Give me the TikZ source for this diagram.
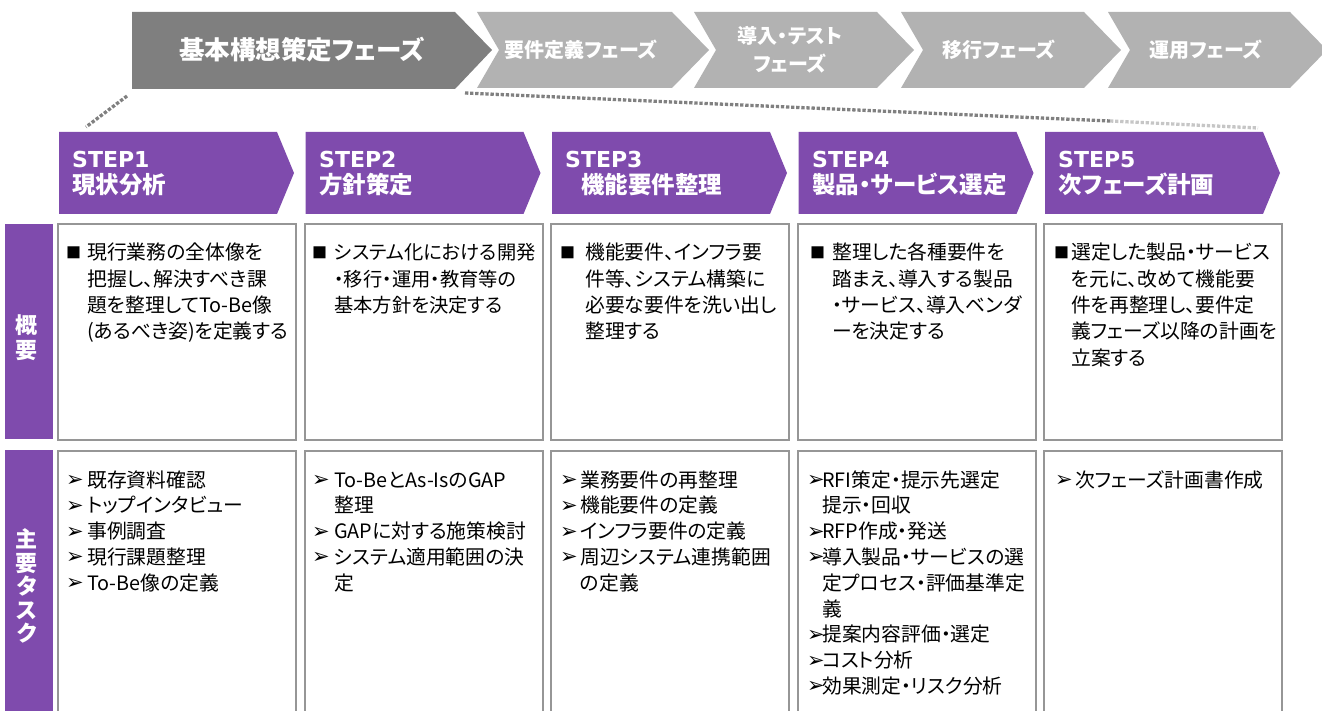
\documentclass[tikz,border=0pt]{standalone}
\usepackage{fontspec}
\setmainfont{Noto Sans CJK JP}[CharacterWidth=AlternateProportional]
\newfontfamily\vd{DejaVu Sans}
\definecolor{pur}{RGB}{127,75,173}
\definecolor{dkg}{RGB}{127,127,127}
\definecolor{ltg}{RGB}{178,178,178}
\definecolor{bdc}{RGB}{150,150,150}
\definecolor{dotc}{RGB}{128,128,128}
\newcommand\BL[1]{\makebox[#1pt][l]{\raisebox{1pt}{\fontsize{15}{15}\selectfont ■}}}
\newcommand\AR[1]{\makebox[#1pt][l]{\raisebox{0.5pt}{\vd\fontsize{21}{21}\selectfont ➢}}}
\tikzset{
  phbig/.style={text=white, inner sep=0, font=\bfseries\fontsize{25.5}{28}\selectfont},
  phtxt/.style={text=white, inner sep=0, align=center, font=\bfseries\fontsize{20}{28}\selectfont},
  dotl/.style={draw=dotc, line width=3.3pt, dash pattern=on 3.3pt off 1.8pt},
  steptxt/.style={text=white, inner sep=0, anchor=base west, font=\vd\bfseries\fontsize{22}{26}\selectfont},
  stepjp/.style={text=white, inner sep=0, anchor=base west, font=\bfseries\fontsize{23.5}{26}\selectfont},
  rowlab/.style={text=white, inner sep=0, align=center},
  boxa/.style={draw=bdc, line width=2pt, inner sep=0, anchor=north west, minimum width=238pt},
  txta/.style={inner sep=0, anchor=base west, font=\fontsize{19.8}{26.3}\selectfont},
  txtb/.style={inner sep=0, anchor=base west, font=\fontsize{19.8}{25.8}\selectfont},
}
\begin{document}
\begin{tikzpicture}[x=1pt,y=-1pt]
\useasboundingbox (0,0) rectangle (1322,711);
% ---------- phases ----------
\fill[dkg] (132,12) -- (455,12) -- (492,50) -- (455,89) -- (132,89) -- cycle;
\foreach \L/\S in {477/672,694/877,901/1084,1108/1290}{
  \fill[ltg] (\L,12) -- (\S,12) -- (\S+37,50) -- (\S,88) -- (\L,88) -- (\L+22,50) -- cycle;}
\node[phbig] (p1) at (302,50) {基本構想策定フェーズ};
\node[phtxt] (p2) at (581,50) {要件定義フェーズ};
\node[phtxt] (p3) at (790,50) {導入・テスト\\フェーズ};
\node[phtxt] (p4) at (999,50) {移行フェーズ};
\node[phtxt] (p5) at (1206,50) {運用フェーズ};
% ---------- dotted guide lines ----------
\coordinate (d1a) at (127,96);
\coordinate (d1b) at (86,127);
\coordinate (d2a) at (465,93);
\coordinate (d2m) at (1110,121);
\coordinate (d2b) at (1258,128);
\draw[dotl] (d1a) -- (d1b);
\draw[dotl] (d2a) -- (d2m);
\draw[dotl, draw=dotc!45] (d2m) -- (d2b);
% ---------- step headers ----------
\foreach \L in {59,305.5,552,798.5,1045}{
  \fill[pur] (\L,132) -- (\L+218,132) -- (\L+235,173) -- (\L+218,214) -- (\L,214) -- cycle;}
\node[steptxt] (s1) at (72,168) {STEP1};
\node[stepjp]  (j1) at (72,194) {現状分析};
\node[steptxt] (s2) at (319,168) {STEP2};
\node[stepjp]  (j2) at (319,194) {方針策定};
\node[steptxt] (s3) at (565,168) {STEP3};
\node[stepjp]  (j3) at (581,194) {機能要件整理};
\node[steptxt] (s4) at (812,168) {STEP4};
\node[stepjp]  (j4) at (812,194) {製品・サービス選定};
\node[steptxt] (s5) at (1058,168) {STEP5};
\node[stepjp]  (j5) at (1058,194) {次フェーズ計画};
% ---------- row labels ----------
\fill[pur] (5,224) rectangle (53,439);
\fill[pur] (5,450) rectangle (53,711);
\node[rowlab, font=\bfseries\fontsize{22}{25}\selectfont] (r1) at (27,338) {概\\要};
\node[rowlab, font=\bfseries\fontsize{22}{23.5}\selectfont] (r2) at (27,586) {主\\要\\タ\\ス\\ク};
% ---------- boxes ----------
\foreach \X [count=\i] in {57,303.5,550,796.5,1043}{
  \node[boxa, minimum height=216pt] (o\i) at (\X,223) {};
  \node[boxa, minimum height=272pt] (m\i) at (\X,450) {};}
% ---------- row 1 text ----------
\node[txta] (t1) at (66,260) {\begin{tabular}[t]{@{}l@{}l@{}}
\BL{21} & 現行業務の全体像を\\ & 把握し、解決すべき課\\ & 題を整理してTo-Be像\\ & (あるべき姿)を定義する\end{tabular}};
\node[txta, font=\fontsize{19.3}{26.3}\selectfont] (t2) at (312,260) {\begin{tabular}[t]{@{}l@{}l@{}}
\BL{22} & システム化における開発\\ & ・移行・運用・教育等の\\ & 基本方針を決定する\end{tabular}};
\node[txta] (t3) at (560,260) {\begin{tabular}[t]{@{}l@{}l@{}}
\BL{25} & 機能要件、インフラ要\\ & 件等、システム構築に\\ & 必要な要件を洗い出し\\ & 整理する\end{tabular}};
\node[txta] (t4) at (810,260) {\begin{tabular}[t]{@{}l@{}l@{}}
\BL{22} & 整理した各種要件を\\ & 踏まえ、導入する製品\\ & ・サービス、導入ベンダ\\ & ーを決定する\end{tabular}};
\node[txta] (t5) at (1054,260) {\begin{tabular}[t]{@{}l@{}l@{}}
\BL{17} & 選定した製品・サービス\\ & を元に、改めて機能要\\ & 件を再整理し、要件定\\ & 義フェーズ以降の計画を\\ & 立案する\end{tabular}};
% ---------- row 2 text ----------
\node[txtb] (u1) at (66,487) {\begin{tabular}[t]{@{}l@{}l@{}}
\AR{21} & 既存資料確認\\ \AR{21} & トップインタビュー\\ \AR{21} & 事例調査\\ \AR{21} & 現行課題整理\\ \AR{21} & To-Be像の定義\end{tabular}};
\node[txtb] (u2) at (312,487) {\begin{tabular}[t]{@{}l@{}l@{}}
\AR{22} & To-BeとAs-IsのGAP\\ & 整理\\ \AR{22} & GAPに対する施策検討\\ \AR{22} & システム適用範囲の決\\ & 定\end{tabular}};
\node[txtb] (u3) at (560,487) {\begin{tabular}[t]{@{}l@{}l@{}}
\AR{20} & 業務要件の再整理\\ \AR{20} & 機能要件の定義\\ \AR{20} & インフラ要件の定義\\ \AR{20} & 周辺システム連携範囲\\ & の定義\end{tabular}};
\node[txtb] (u4) at (807,487) {\begin{tabular}[t]{@{}l@{}l@{}}
\AR{15} & RFI策定・提示先選定\\ & 提示・回収\\ \AR{15} & RFP作成・発送\\ \AR{15} & 導入製品・サービスの選\\ & 定プロセス・評価基準定\\ & 義\\ \AR{15} & 提案内容評価・選定\\ \AR{15} & コスト分析\\ \AR{15} & 効果測定・リスク分析\end{tabular}};
\node[txtb] (u5) at (1055,487) {\begin{tabular}[t]{@{}l@{}l@{}}
\AR{20} & 次フェーズ計画書作成\end{tabular}};
\end{tikzpicture}
\end{document}
